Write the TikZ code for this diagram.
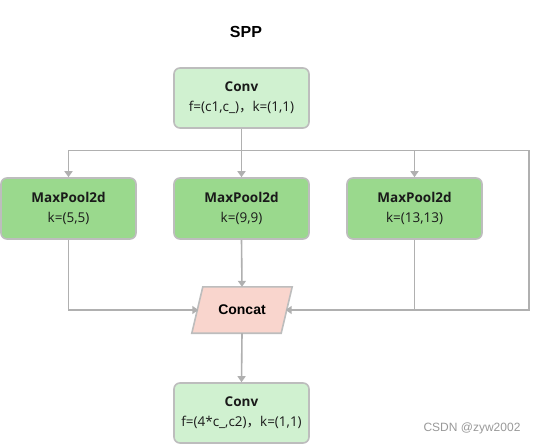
\documentclass[tikz,border=0pt]{standalone}
\usepackage{fontspec}
\setmainfont{Open Sans}
\newfontfamily\cjk{Noto Sans CJK SC}
\newfontfamily\arialf{Liberation Sans}
\usetikzlibrary{arrows.meta}
\definecolor{convfill}{HTML}{D0F1D0}
\definecolor{poolfill}{HTML}{9AD98D}
\definecolor{catfill}{HTML}{F9D5CD}
\definecolor{edgegray}{HTML}{BDBDBD}
\definecolor{linegray}{HTML}{B0B0B0}
\definecolor{txt}{HTML}{1A1A1A}
\tikzset{
  box/.style={draw=edgegray, line width=1.6pt, rounded corners=6pt, minimum width=135pt, minimum height=60pt, align=center, text=txt, font=\fontsize{13.5}{20}\selectfont, inner sep=0pt},
  convbox/.style={box, fill=convfill},
  poolbox/.style={box, fill=poolfill, minimum height=61pt},
  conn/.style={draw=linegray, line width=1.6pt},
  arr/.style={conn, -{Triangle[width=8pt,length=6pt]}}
}
\begin{document}
\begin{tikzpicture}[x=1pt,y=-1pt]
\useasboundingbox[fill=white] (0,0) rectangle (537,445);
\node[font=\arialf\fontsize{16}{18}\selectfont\bfseries, text=black] (title) at (246,32) {SPP};
\node[convbox] (conv1) at (241.5,98) {\textbf{Conv}\\f=(c1,c\_){\cjk ，}k=(1,1)};
\node[poolbox] (mp1) at (68.5,208.5) {\textbf{MaxPool2d}\\k=(5,5)};
\node[poolbox] (mp2) at (241.5,208.5) {\textbf{MaxPool2d}\\k=(9,9)};
\node[poolbox] (mp3) at (414.5,208.5) {\textbf{MaxPool2d}\\k=(13,13)};
\node[minimum width=89pt, minimum height=46pt, inner sep=0pt] (concat) at (242,310) {};
\filldraw[fill=catfill, draw=edgegray, line width=1.6pt, line join=miter]
  ([xshift=-5.5pt]concat.south west) -- ([xshift=5.5pt]concat.north west) -- ([xshift=5.5pt]concat.north east) -- ([xshift=-5.5pt]concat.south east) -- cycle;
\node[font=\arialf\fontsize{14}{16}\selectfont\bfseries, text=black] at (concat.center) {Concat};
\node[convbox] (conv2) at (241.5,413) {\textbf{Conv}\\f=(4*c\_,c2){\cjk ，}k=(1,1)};
\node[text=gray!80, font=\arialf\fontsize{12}{14}\selectfont] (wm) at (472,428) {CSDN @zyw2002};
\coordinate (sp) at (241.5,150.5);
\coordinate (rc) at (529,150.5);
\coordinate (rb) at (529,310);
\draw[conn] (conv1.south) -- (sp);
\draw[arr] (sp) -| (mp1.north);
\draw[arr] (sp) -- (mp2.north);
\draw[arr] (sp) -| (mp3.north);
\draw[arr] (sp) -- (rc) -- (rb) -- ([xshift=-1pt]concat.east);
\draw[arr] (mp1.south) |- ([xshift=1pt]concat.west);
\draw[arr] (mp2.south) -- (concat.north);
\draw[conn] (mp3.south) |- (concat.east -| mp3.south);
\draw[arr] (concat.south) -- (conv2.north);
\end{tikzpicture}
\end{document}
